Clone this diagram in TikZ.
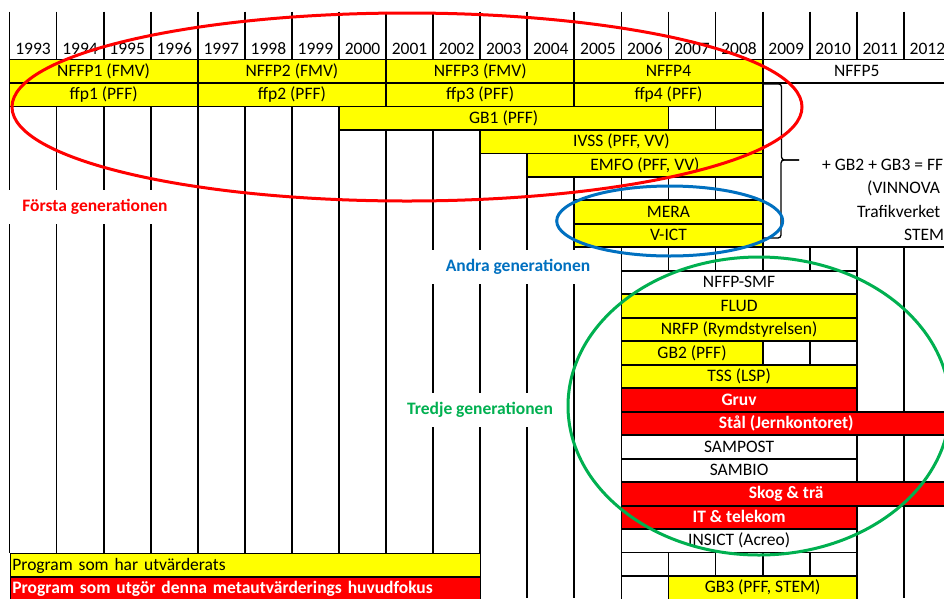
\documentclass[tikz,border=0pt]{standalone}
\usepackage{fontspec}
\setmainfont{Carlito}
\usepackage{tikz}
\usetikzlibrary{calc}
\usepackage{xcolor}
\definecolor{gul}{RGB}{255,255,0}
\definecolor{rod}{RGB}{255,0,0}
\definecolor{blaa}{RGB}{0,112,192}
\definecolor{gron}{RGB}{0,176,80}

% balk: namn, stil, fran ar, till ar, rad, text
\newcommand{\balk}[6]{%
  \pgfmathsetmacro{\xa}{\xo+\bx*(#3-1993)}%
  \pgfmathsetmacro{\bb}{\bx*(#4-#3+1)}%
  \pgfmathsetmacro{\ya}{\yo+\by*#5}%
  \node[#2, minimum width=\bb pt, minimum height=\by pt] (#1) at ({\xa+\bb/2},{\ya+\by/2}) {#6};%
}

\begin{document}
\fontsize{17.5}{21}\selectfont
\begin{tikzpicture}[x=1pt, y=-1pt,
    linje/.style={line width=1.8pt},
    balk/.style={draw=black, line width=1.8pt, inner sep=0pt, text height=0.75em, text depth=0.17em},
    gulbalk/.style={balk, fill=gul},
    vitbalk/.style={balk, fill=white},
    rodbalk/.style={balk, fill=rod, text=white, font=\bfseries},
    rubrik/.style={fill=white, font=\bfseries, inner xsep=16pt, inner ysep=9pt},
    sidtext/.style={anchor=west, inner sep=0pt, text height=0.75em, text depth=0.17em},
    ring/.style={line width=3pt}]
  \def\xo{9.5}    % vansterkant 1993
  \def\bx{47.07}  % kolumnbredd
  \def\yo{59.5}   % overkant rad 0
  \def\by{23.48}  % radhojd
  \def\ytop{11.7} % overkant arsrad

  \useasboundingbox (0,0) rectangle (944,598);
  \clip (0,0) rectangle (944,598);

  % lodrata linjer
  \foreach \i in {0,...,9}
    \draw[linje] ({\xo+\bx*\i},\ytop) -- ({\xo+\bx*\i},{\yo+\by*21});
  \foreach \i in {10,...,16}
    \draw[linje] ({\xo+\bx*\i},\ytop) -- ({\xo+\bx*\i},598);
  \foreach \i in {17,18,19} {
    \draw[linje] ({\xo+\bx*\i},\ytop) -- ({\xo+\bx*\i},\yo);
    \draw[linje] ({\xo+\bx*\i},{\yo+\by*8}) -- ({\xo+\bx*\i},598);
  }
  % vagrat linje under STEM
  \draw[linje] ({\xo+\bx*16},{\yo+\by*8}) -- (950,{\yo+\by*8});

  % tomma celler
  \foreach \aar/\rad in {2007/2,2008/2,2005/5,2006/5,2007/5,2008/5,
      2006/8,2007/8,2008/8,2009/8,2010/8,2009/12,2010/12,
      2006/21,2007/21,2008/21,2009/21,2010/21,2006/22}
    \draw[linje] ({\xo+\bx*(\aar-1993)},{\yo+\by*\rad}) rectangle ++(\bx,\by);

  % artal
  \foreach \aar [count=\i from 0] in {1993,...,2012}
    \node (ar\aar) at ({\xo+\bx*(\i+0.5)},49) {\aar};

  % forsta generationen
  \balk{nffp1}{gulbalk}{1993}{1996}{0}{NFFP1 (FMV)}
  \balk{nffp2}{gulbalk}{1997}{2000}{0}{NFFP2 (FMV)}
  \balk{nffp3}{gulbalk}{2001}{2004}{0}{NFFP3 (FMV)}
  \balk{nffp4}{gulbalk}{2005}{2008}{0}{NFFP4}
  \balk{nffp5}{vitbalk}{2009}{2012}{0}{NFFP5}
  \balk{ffp1}{gulbalk}{1993}{1996}{1}{ffp1 (PFF)}
  \balk{ffp2}{gulbalk}{1997}{2000}{1}{ffp2 (PFF)}
  \balk{ffp3}{gulbalk}{2001}{2004}{1}{ffp3 (PFF)}
  \balk{ffp4}{gulbalk}{2005}{2008}{1}{ffp4 (PFF)}
  \balk{gb1}{gulbalk}{2000}{2006}{2}{GB1 (PFF)}
  \balk{ivss}{gulbalk}{2003}{2008}{3}{IVSS (PFF, VV)}
  \balk{emfo}{gulbalk}{2004}{2008}{4}{EMFO (PFF, VV)}

  % andra generationen
  \balk{mera}{gulbalk}{2005}{2008}{6}{MERA}
  \balk{vict}{gulbalk}{2005}{2008}{7}{V-ICT}

  % tredje generationen
  \balk{smf}{vitbalk}{2006}{2010}{9}{NFFP-SMF}
  \balk{flud}{gulbalk}{2006}{2010}{10}{FLUD}
  \balk{nrfp}{gulbalk}{2006}{2010}{11}{NRFP (Rymdstyrelsen)}
  \balk{gb2}{gulbalk}{2006}{2008}{12}{GB2 (PFF)}
  \balk{tss}{gulbalk}{2006}{2010}{13}{TSS (LSP)}
  \balk{gruv}{rodbalk}{2006}{2010}{14}{Gruv}
  \balk{stal}{rodbalk}{2006}{2012}{15}{Stål (Jernkontoret)}
  \balk{sampost}{vitbalk}{2006}{2010}{16}{SAMPOST}
  \balk{sambio}{vitbalk}{2006}{2010}{17}{SAMBIO}
  \balk{skog}{rodbalk}{2006}{2012}{18}{Skog \& trä}
  \balk{it}{rodbalk}{2006}{2010}{19}{IT \& telekom}
  \balk{insict}{vitbalk}{2006}{2010}{20}{INSICT (Acreo)}
  \balk{gb3}{gulbalk}{2007}{2010}{22}{GB3 (PFF, STEM)}

  % teckenforklaring
  \node[gulbalk, anchor=north west, minimum height=\by pt, text width=466pt, align=left, inner xsep=2pt]
    (utvarderade) at (\xo,{\yo+\by*21}) {Program som har utvärderats};
  \node[rodbalk, anchor=north west, minimum height=\by pt, text width=466pt, align=left, inner xsep=2pt]
    (huvudfokus) at (\xo,{\yo+\by*22}) {Program som utgör denna metautvärderings huvudfokus};

  % klammer och text till hoger
  \coordinate (klamtopp) at (nffp4.south east);
  \coordinate (klamspets) at (799,160);
  \draw[line width=1.3pt, rounded corners=3pt] (klamtopp) -- ++(18,0) |- (klamspets);
  \draw[line width=1.3pt, rounded corners=3pt] (klamspets) -| ++(-18,78) -- ++(-18,0);
  \node[sidtext] (ffi) at (822,{\yo+\by*4.5}) {+ GB2 + GB3 = FF};
  \node[sidtext] (vinnova) at (867,{\yo+\by*5.5}) {(VINNOVA};
  \node[sidtext] (trafikverket) at (857,{\yo+\by*6.5}) {Trafikverket};
  \node[sidtext] (stem) at (904,{\yo+\by*7.5}) {STEM};

  % rubriker
  \node[rubrik, text=rod] (forsta) at (95,207) {Första generationen};
  \node[rubrik, text=blaa] (andra) at (518,267) {Andra generationen};
  \node[rubrik, text=gron] (tredje) at (480,410) {Tredje generationen};

  % ringar
  \draw[ring, rod] (407,107) ellipse [x radius=395, y radius=94];
  \draw[ring, blaa] (669.7,221) ellipse [x radius=113, y radius=35];
  \draw[ring, gron] (759,406) ellipse [x radius=191, y radius=149];
\end{tikzpicture}
\end{document}
